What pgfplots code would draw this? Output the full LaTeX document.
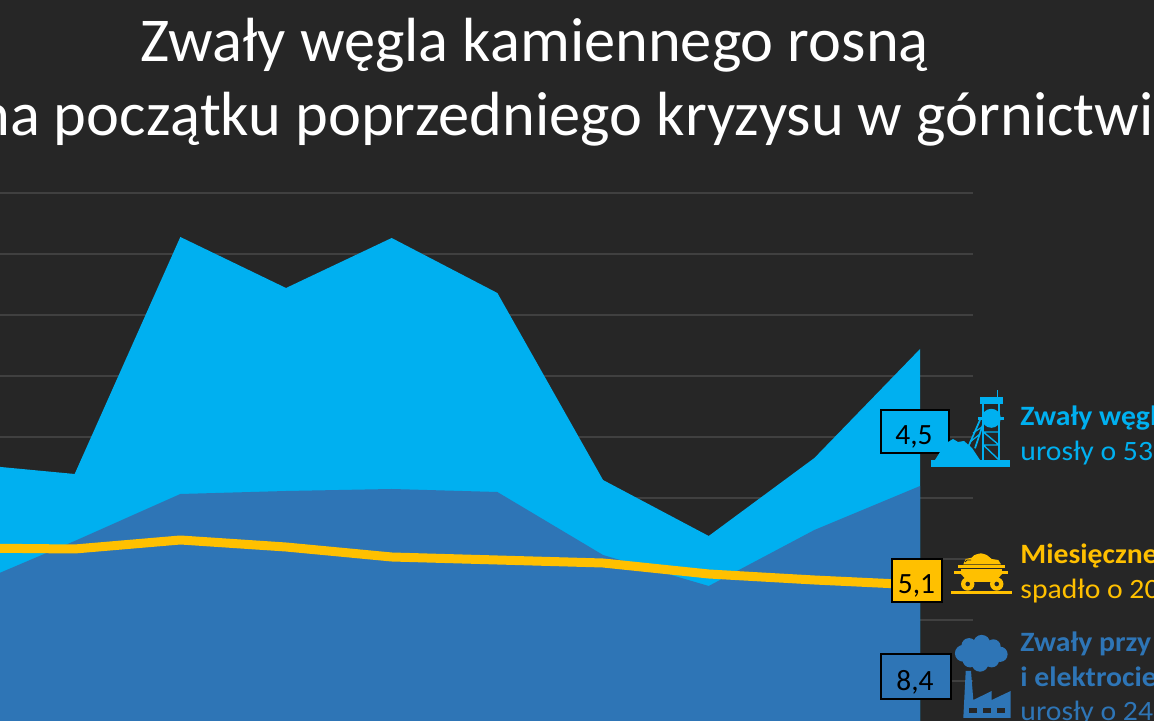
\documentclass[border=0pt]{standalone}
\usepackage{fontspec}
\setmainfont{Carlito}
\usepackage{pgfplots}
\pgfplotsset{compat=1.18}
\usepackage{pgfplotstable}
\definecolor{bgdark}{HTML}{262626}
\definecolor{gridc}{HTML}{404040}
\definecolor{total}{HTML}{00B0F0}
\definecolor{plants}{HTML}{2E75B6}
\definecolor{output}{HTML}{FFC000}
\newcommand{\wide}[1]{\scalebox{1.06}[1]{#1}}

% heights in picture units above the bottom edge, month index in x
\pgfplotstableread{
m total plants output
0 257 135 173
1 247 180 172
2 484 227 181
3 433 230 174
4 483 232 164
5 428 229 161
6 241 166 158
7 185 135 147
8 263 191 141
9 372 235 136
}\stocks

\pgfplotstableread{
x g1 g2 g3 g4 g5 g6 g7 g8 g9
0 528 467 406 345 284 223 162 101 40
9.5 528 467 406 345 284 223 162 101 40
}\gridl

\begin{document}
\begin{tikzpicture}
\useasboundingbox (0,0) rectangle (577pt,360.5pt);
\clip (0,0) rectangle (577pt,360.5pt);
\fill[bgdark] (0,0) rectangle (577pt,360.5pt);

\begin{axis}[
  at={(0,0)},anchor=south west,
  scale only axis,width=577pt,height=360.5pt,
  xmin=0.2934,xmax=11.214,ymin=0,ymax=721,
  hide axis,
]
  \foreach \g in {g1,g2,g3,g4,g5,g6,g7,g8,g9}{
    \addplot[gridc,line width=1pt,forget plot] table[x=x,y=\g] {\gridl};
  }
  \addplot[draw=none,fill=total] table[x=m,y=total] {\stocks} \closedcycle;
  \addplot[draw=none,fill=plants] table[x=m,y=plants] {\stocks} \closedcycle;
  \addplot[output,line width=4.5pt,line join=round] table[x=m,y=output] {\stocks};
\end{axis}

% overlay in pixel coordinates of the reference, y downwards
\begin{scope}[shift={(0,360.5pt)},x=0.5pt,y=-0.5pt]
\node[white,anchor=base,font=\fontsize{31.2pt}{31.2pt}\selectfont] at (534.5,61.5) {Zwały węgla kamiennego rosną};
\node[white,anchor=base,font=\fontsize{31.2pt}{31.2pt}\selectfont] at (581,135.5) {na początku poprzedniego kryzysu w górnictwie};

% value boxes
\draw[black,line width=1pt,fill=total] (881,410) rectangle (949,453);
\draw[black,line width=1pt,fill=output] (892,559) rectangle (942,602);
\draw[black,line width=1pt,fill=plants] (881,654) rectangle (951,699);
\node[black,anchor=base,font=\fontsize{14.7pt}{14.7pt}\selectfont] at (914,445) {4,5};
\node[black,anchor=base,font=\fontsize{14.7pt}{14.7pt}\selectfont] at (916.5,594) {5,1};
\node[black,anchor=base,font=\fontsize{14.7pt}{14.7pt}\selectfont] at (915,691) {8,4};

% mine tower and pile
\fill[total] (931,460) rectangle (1010,467);
\fill[total] (935,460) -- (940,452) -- (948,442) -- (953,439) -- (958,442) -- (964,441) -- (972,448) -- (980,460) -- cycle;
\fill[total] (980,397) rectangle (1003,404);
\draw[total,line width=0.7pt] (997.7,390) -- (997.7,397);
\draw[total,line width=0.85pt] (983.3,404) -- (983.3,460) (999,404) -- (999,460);
\draw[total,line width=0.7pt] (983.3,432) -- (999,445) (983.3,445) -- (999,445) (983.3,445) -- (999,460) (983.3,432) -- (999,432);
\draw[total,line width=0.85pt] (980,420) -- (968.3,446.7) (983.3,423.3) -- (975,448.3);
\draw[total,line width=0.6pt] (970,442) -- (980,434) (973,433) -- (982,427);
\fill[total] (978,417) rectangle (1004,420);
\fill[total] (991.3,418.3) circle [radius=4.75pt];

% cart
\fill[output] (951,591) rectangle (1012,593.7);
\fill[output] (958,565) rectangle (1005,567.7);
\fill[output] (954,571) rectangle (1008,574.3);
\fill[output] (961,569) rectangle (1002,574);
\fill[output] (961,574) -- (1002,574) -- (995,582) -- (968,582) -- cycle;
\fill[output] (963.3,564.3) -- (965.7,559) -- (971.7,557.7) .. controls (974,555) .. (976.7,554.3) .. controls (981,553) .. (986.7,555) -- (991.7,559) -- (998.3,560) -- (1001,564.3) -- cycle;
\draw[bgdark,line width=0.4pt] (965,562) -- (967,560) -- (971,560);
\foreach \cx in {967.7,996.7}{
  \fill[output] (\cx,584) circle [radius=3.35pt];
  \fill[bgdark] (\cx,584) circle [radius=1.15pt];
}

% cloud and factory
\fill[plants] (963.3,653.3) circle [radius=4.2pt];
\fill[plants] (969,645.7) circle [radius=3.8pt];
\fill[plants] (981.7,643.3) circle [radius=4.2pt];
\fill[plants] (993.3,646.7) circle [radius=3.7pt];
\fill[plants] (1000,654.3) circle [radius=3.8pt];
\fill[plants] (991.7,660) circle [radius=3.7pt];
\fill[plants] (980,663.3) circle [radius=4.2pt];
\fill[plants] (970,660) circle [radius=3.7pt];
\fill[plants] (981.7,653.3) circle [radius=5.8pt];
\fill[plants] (963.3,718) -- (965.7,671) -- (971,671) -- (973.3,700) -- (991.7,691) -- (991.7,700) -- (1010.7,691) -- (1010.7,718) -- cycle;
\fill[bgdark] (969,707.7) rectangle (977.3,713.3);
\fill[bgdark] (982.7,707.7) rectangle (991,713.3);
\fill[bgdark] (996.7,707.7) rectangle (1005,713.3);

% legend text, cut off by the page edge as in the reference
\begin{scope}[every node/.style={anchor=base west,inner sep=0pt,font=\fontsize{14pt}{14pt}\selectfont}]
\node[total,font=\fontsize{14pt}{14pt}\selectfont\bfseries] at (1020,426) {\wide{Zwały węgla}};
\node[total] at (1020,460.5) {\wide{urosły o 53\%}};
\node[output,font=\fontsize{14pt}{14pt}\selectfont\bfseries] at (1020,563.5) {\wide{Miesięczne wydobycie}};
\node[output] at (1020,598.5) {\wide{spadło o 20\%}};
\node[plants,font=\fontsize{14pt}{14pt}\selectfont\bfseries] at (1020,651.5) {\wide{Zwały przy elektrowniach}};
\node[plants,font=\fontsize{14pt}{14pt}\selectfont\bfseries] at (1020,686.5) {\wide{i elektrociepłowniach}};
\node[plants] at (1020,720.5) {\wide{urosły o 24\%}};
\end{scope}
\end{scope}
\end{tikzpicture}
\end{document}
